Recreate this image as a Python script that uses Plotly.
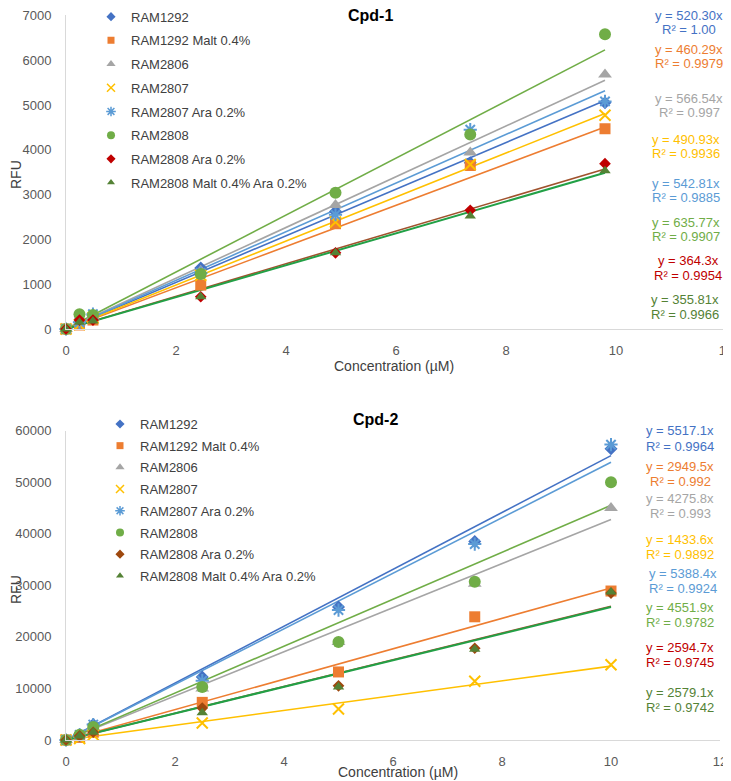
import plotly.graph_objects as go

# page body keeps its default 8px margin, so the figure is 8px smaller than the window
OFF = 8
W, H = 731 - OFF, 781 - OFF

# ---- data ----
series = ["RAM1292", "RAM1292 Malt 0.4%", "RAM2806", "RAM2807", "RAM2807 Ara 0.2%",
          "RAM2808", "RAM2808 Ara 0.2%", "RAM2808 Malt 0.4% Ara 0.2%"]

conc1 = [0, 0.245, 0.49, 2.45, 4.9, 7.35, 9.8]
cpd1 = [
    [0, 150, 300, 1360, 2620, 3710, 5050],
    [0, 90, 200, 980, 2350, 3650, 4470],
    [0, 150, 280, 1300, 2770, 3940, 5680],
    [0, 100, 250, 1200, 2390, 3670, 4770],
    [0, 150, 330, 1250, 2550, 4450, 5080],
    [0, 330, 310, 1230, 3040, 4340, 6580],
    [0, 200, 200, 720, 1700, 2650, 3690],
    [0, 150, 180, 720, 1700, 2520, 3530],
]
slope1 = [520.30, 460.29, 566.54, 490.93, 542.81, 635.77, 364.3, 355.81]
slope1_txt = ["520.30", "460.29", "566.54", "490.93", "542.81", "635.77", "364.3", "355.81"]
r2_1 = ["1.00", "0.9979", "0.997", "0.9936", "0.9885", "0.9907", "0.9954", "0.9966"]

conc2 = [0, 0.25, 0.5, 2.5, 5, 7.5, 10]
cpd2 = [
    [0, 1000, 3000, 12200, 25800, 38500, 56500],
    [0, 500, 1500, 7300, 13200, 23900, 28900],
    [0, 1000, 2500, 10000, 19000, 30300, 45000],
    [0, 300, 1000, 3300, 6000, 11400, 14600],
    [0, 1000, 3000, 11500, 25200, 38000, 57300],
    [0, 1000, 2500, 10300, 19000, 30700, 50000],
    [0, 800, 1500, 6200, 10500, 17800, 28500],
    [0, 800, 1500, 5300, 10300, 17600, 28700],
]
slope2 = [5517.1, 2949.5, 4275.8, 1433.6, 5388.4, 4551.9, 2594.7, 2579.1]
slope2_txt = ["5517.1", "2949.5", "4275.8", "1433.6", "5388.4", "4551.9", "2594.7", "2579.1"]
r2_2 = ["0.9964", "0.992", "0.993", "0.9892", "0.9924", "0.9782", "0.9745", "0.9742"]

# ---- styles ----
FONT = "Liberation Sans, Arial, sans-serif"
mcol1 = ["#4472C4", "#ED7D31", "#A5A5A5", "#FFC000", "#5B9BD5", "#70AD47", "#C00000", "#548235"]
mcol2 = ["#4472C4", "#ED7D31", "#A5A5A5", "#FFC000", "#5B9BD5", "#70AD47", "#9E480E", "#548235"]
lcol = ["#4472C4", "#ED7D31", "#A5A5A5", "#FFC000", "#5B9BD5", "#70AD47", "#A0522D", "#22A046"]
tcol = ["#4472C4", "#ED7D31", "#A5A5A5", "#FFC000", "#5B9BD5", "#70AD47", "#C00000", "#548235"]
symbols = ["diamond", "square", "triangle-up", "x-thin-open", "asterisk-open",
           "circle", "diamond", "triangle-up"]
msize = [10, 11, 12, 11, 11, 12, 9, 10]
lsize = [7, 7, 8, 8, 8, 8, 7, 7]


def px(x):
    return (x - OFF) / W


def py(y):
    return 1 - (y - OFF) / H


fig = go.Figure()


def add_panel(xs, ys_all, slopes, mcol, xa, ya, leg):
    # trendlines through origin
    for i, s in enumerate(slopes):
        xe = [0, max(xs)]
        fig.add_trace(go.Scatter(
            x=xe, y=[s * v for v in xe], mode="lines", xaxis=xa, yaxis=ya,
            line=dict(color=lcol[i], width=2 if i == 7 else 1.6),
            showlegend=False, hoverinfo="skip"))
    for i, name in enumerate(series):
        open_sym = symbols[i].endswith("open")
        mk = dict(symbol=symbols[i], size=msize[i], color=mcol[i],
                  line=dict(color=mcol[i], width=2 if open_sym else 0))
        fig.add_trace(go.Scatter(
            x=xs, y=ys_all[i], mode="markers", xaxis=xa, yaxis=ya, name=name,
            marker=mk, showlegend=False, cliponaxis=False))
        # small legend swatch
        lmk = dict(symbol=symbols[i], size=lsize[i], color=mcol[i],
                   line=dict(color=mcol[i], width=1.5 if open_sym else 0))
        fig.add_trace(go.Scatter(
            x=[None], y=[None], mode="markers", xaxis=xa, yaxis=ya, name=name,
            marker=lmk, legend=leg, legendgroup=leg + str(i)))


add_panel(conc1, cpd1, slope1, mcol1, "x", "y", "legend")
add_panel(conc2, cpd2, slope2, mcol2, "x2", "y2", "legend2")

axis_common = dict(showgrid=False, zeroline=False, showline=True, linecolor="#D9D9D9",
                   linewidth=1, ticks="", tickformat="d", automargin=False,
                   ticklabeloverflow="allow",
                   tickfont=dict(family=FONT, size=13, color="#595959"))

fig.update_layout(
    width=W, height=H, margin=dict(l=0, r=0, t=0, b=0, autoexpand=False),
    paper_bgcolor="white", plot_bgcolor="white",
    font=dict(family=FONT),
    xaxis=dict(domain=[px(66), px(726)], range=[0, 12], dtick=2, anchor="y",
               ticklabelstandoff=9, **axis_common),
    yaxis=dict(domain=[py(329), py(15.4)], range=[0, 7000], dtick=1000, anchor="x",
               ticklabelstandoff=11, **axis_common),
    xaxis2=dict(domain=[px(66), px(720)], range=[0, 12], dtick=2, anchor="y2",
                ticklabelstandoff=9, **axis_common),
    yaxis2=dict(domain=[py(740), py(430.7)], range=[0, 60000], dtick=10000, anchor="x2",
                ticklabelstandoff=11, **axis_common),
    legend=dict(x=px(91), y=py(1.7), xanchor="left", yanchor="top", bgcolor="rgba(0,0,0,0)",
                font=dict(family=FONT, size=13, color="#404040"), tracegroupgap=3.8,
                itemsizing="trace"),
    legend2=dict(x=px(100), y=py(409), xanchor="left", yanchor="top", bgcolor="rgba(0,0,0,0)",
                 font=dict(family=FONT, size=13, color="#404040"), tracegroupgap=1.8,
                 itemsizing="trace"),
)

ann = []


def text(x, y, s, size=14, color="#404040", **kw):
    ann.append(dict(x=px(x), y=py(y), xref="paper", yref="paper", text=s, showarrow=False,
                    xanchor="center", yanchor="middle",
                    font=dict(family=FONT, size=size, color=color), **kw))


text(370, 15, "<b>Cpd-1</b>", size=16, color="#000000")
text(375, 419, "<b>Cpd-2</b>", size=16, color="#000000")
text(394, 366, "Concentration (µM)")
text(398, 772, "Concentration (µM)")
text(16, 175, "RFU", textangle=-90)
text(16, 590, "RFU", textangle=-90)

eq1_y = [15, 49, 98, 139, 183, 222, 261, 300]
eq1_x = [689, 689, 689, 686, 686, 686, 688, 685]
for i in range(8):
    text(eq1_x[i], eq1_y[i], "y = " + slope1_txt[i] + "x", size=13, color=tcol[i])
    text(eq1_x[i], eq1_y[i] + 14.5, "R² = " + r2_1[i], size=13, color=tcol[i])

eq2_y = [431, 466, 498, 539, 573, 607, 647, 692]
eq2_x = [680, 680, 680, 680, 683, 680, 680, 680]
for i in range(8):
    text(eq2_x[i], eq2_y[i], "y = " + slope2_txt[i] + "x", size=13, color=tcol[i])
    text(eq2_x[i], eq2_y[i] + 15, "R² = " + r2_2[i], size=13, color=tcol[i])

fig.update_layout(annotations=ann)

fig.write_html("out.html")
